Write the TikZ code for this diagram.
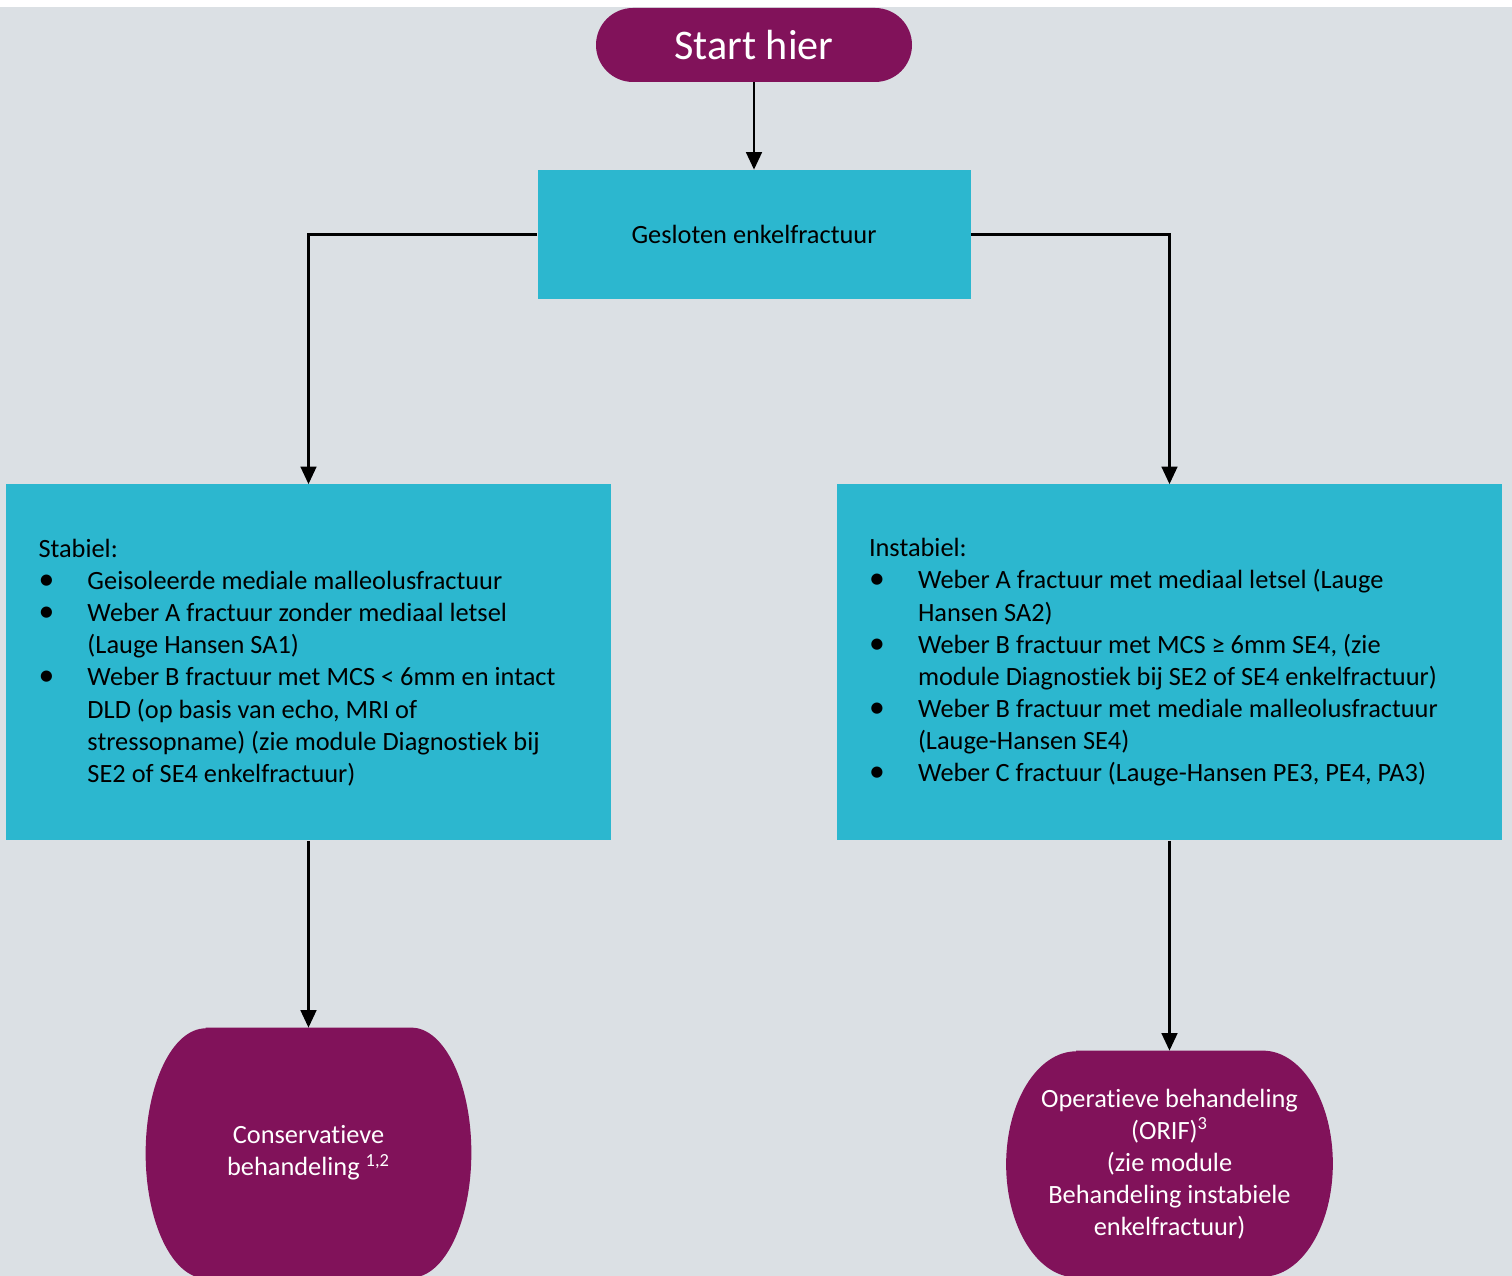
\documentclass[tikz,border=0pt]{standalone}
\usepackage{fontspec}
\setmainfont{Carlito}[Ligatures=NoCommon]
\usetikzlibrary{arrows.meta,positioning,backgrounds}

\definecolor{pagegrey}{RGB}{219,224,228}
\definecolor{boxcyan}{RGB}{44,183,207}
\definecolor{termplum}{RGB}{129,18,90}

\tikzset{
  flowbox/.style={rectangle, fill=boxcyan, inner sep=0pt, font=\fontsize{15}{18.3}\selectfont},
  listbox/.style={flowbox, inner xsep=0.64cm, align=flush left},
  startbox/.style={rectangle, rounded corners=0.74cm, fill=termplum, text=white, minimum width=6.32cm, minimum height=1.48cm, font=\fontsize{24}{28}\selectfont},
  termtext/.style={rectangle, inner sep=0pt, text=white, align=center, font=\fontsize{15}{18.3}\selectfont},
  flowarrow/.style={-{Triangle[width=9pt,length=10pt]}, line width=1.3pt},
}

% bullet line with hanging indent
\newcommand{\fracitem}[1]{\par\hangindent=0.98cm\hangafter=1\noindent\makebox[0.98cm][l]{\scalebox{1.2}{\textbullet}}#1\par}

% plum terminal with elliptic corners: node, x radius, y radius
\newcommand{\termfill}[3]{%
  \fill[termplum] ([xshift=#2]#1.north west) -- ([xshift=-#2]#1.north east)
    arc[start angle=90, end angle=-90, x radius=#2, y radius=#3]
    -- ([xshift=#2]#1.south west)
    arc[start angle=270, end angle=90, x radius=#2, y radius=#3] -- cycle;}

\begin{document}
\begin{tikzpicture}
    \useasboundingbox (0,0) rectangle (30.24,25.52);

    \node at (15.08,24.62) [startbox] (start) {Start hier};
    \node at (15.08,20.83) [flowbox, minimum width=8.66cm, minimum height=2.58cm] (closed) {Gesloten enkelfractuur};

    \node at (6.17,12.27) [listbox, text width=10.8cm, minimum height=7.12cm] (stable) {Stabiel:
      \fracitem{Geisoleerde mediale malleolusfractuur}
      \fracitem{Weber A fractuur zonder mediaal letsel\newline (Lauge Hansen SA1)}
      \fracitem{Weber B fractuur met MCS < 6mm en intact\newline DLD (op basis van echo, MRI of\newline stressopname) (zie module Diagnostiek bij\newline SE2 of SE4 enkelfractuur)}};
    \node at (23.39,12.27) [listbox, text width=12.02cm, minimum height=7.12cm] (unstable) {Instabiel:
      \fracitem{Weber A fractuur met mediaal letsel (Lauge\newline Hansen SA2)}
      \fracitem{Weber B fractuur met MCS ≥ 6mm SE4, (zie\newline module Diagnostiek bij SE2 of SE4 enkelfractuur)}
      \fracitem{Weber B fractuur met mediale malleolusfractuur\newline (Lauge-Hansen SE4)}
      \fracitem{Weber C fractuur (Lauge-Hansen PE3, PE4, PA3)}};

    \node at (6.17,2.46) [termtext, minimum width=6.5cm, minimum height=5.0cm] (conserv) {Conservatieve\\behandeling \textsuperscript{1,2}};
    \node at (23.39,2.24) [termtext, minimum width=6.52cm, minimum height=4.52cm] (operat) {Operatieve behandeling\\(ORIF)\textsuperscript{3}\\(zie module\\Behandeling instabiele\\enkelfractuur)};

    \draw[flowarrow] (start.south) -- (closed.north);
    \draw[flowarrow] (closed.west) -| (stable.north);
    \draw[flowarrow] (closed.east) -| (unstable.north);
    \draw[flowarrow] (stable.south) -- (conserv.north);
    \draw[flowarrow] (unstable.south) -- (operat.north);

    \begin{scope}[on background layer]
        \fill[pagegrey] (0,0) rectangle (30.24,25.38);
        \termfill{conserv}{1.2cm}{2.5cm}
        \termfill{operat}{1.4cm}{2.26cm}
    \end{scope}
\end{tikzpicture}
\end{document}
